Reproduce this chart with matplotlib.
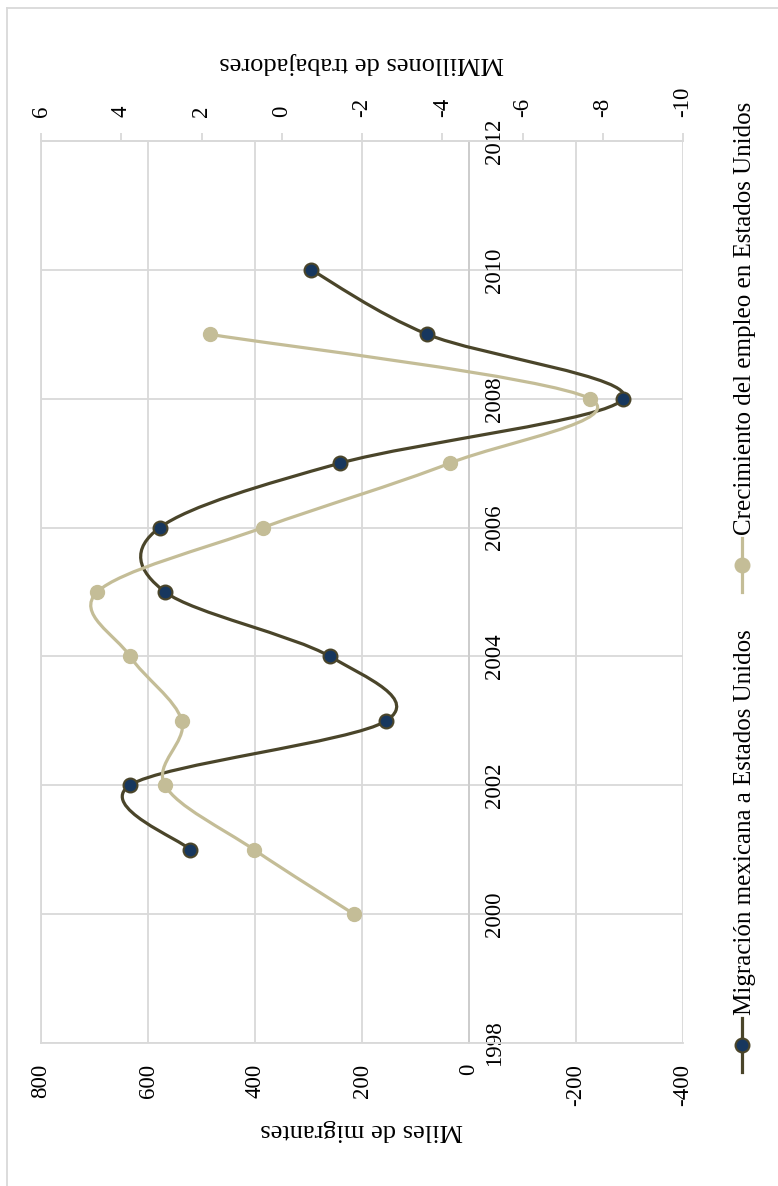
import matplotlib
matplotlib.use("Agg")
import matplotlib.pyplot as plt
from matplotlib.path import Path
from matplotlib.patches import PathPatch
from matplotlib.lines import Line2D
import numpy as np

plt.rcParams['font.family'] = ['Liberation Serif', 'DejaVu Serif']
plt.rcParams['axes.unicode_minus'] = False

years_mig = [2001, 2002, 2003, 2004, 2005, 2006, 2007, 2008, 2009, 2010]
migrantes = [521, 634, 155, 260, 568, 578, 241, -288, 78, 295]  # miles

years_emp = [2000, 2001, 2002, 2003, 2004, 2005, 2006, 2007, 2008, 2009]
empleo = [-1.80, 0.69, 2.91, 2.49, 3.78, 4.60, 0.47, -4.19, -7.68, 1.79]  # millones

lab_mig = "Migración mexicana a Estados Unidos"
lab_emp = "Crecimiento del empleo en Estados Unidos"
year_ticks = list(range(1998, 2013, 2))
mig_ticks = list(range(-400, 801, 200))
emp_ticks = list(range(-10, 7, 2))

DARK = '#4A452A'
NAVY = '#17375E'
TAN = '#C4BD97'
GRID = '#d9d9d9'


def smooth_path(xs, ys):
    # Excel-style smoothed line: Catmull-Rom segments as cubic Beziers
    p = np.column_stack([xs, ys]).astype(float)
    n = len(p)
    verts = [p[0]]
    codes = [Path.MOVETO]
    for i in range(n - 1):
        p0 = p[max(i - 1, 0)]
        p1 = p[i]
        p2 = p[i + 1]
        p3 = p[min(i + 2, n - 1)]
        c1 = p1 + (p2 - p0) / 6.0
        c2 = p2 - (p3 - p1) / 6.0
        verts += [c1, c2, p2]
        codes += [Path.CURVE4] * 3
    return Path(verts, codes)


W, H = 778, 1186
fig = plt.figure(figsize=(W / 100, H / 100), dpi=100)
ax = fig.add_axes([41 / W, (H - 1043) / H, (683 - 41) / W, (1043 - 141) / H])

ax.set_xlim(800, -400)
ax.set_ylim(1998, 2012)
ax.set_xticks(mig_ticks)
ax.set_yticks(year_ticks)
ax.grid(True, color=GRID, lw=1.3)
ax.set_axisbelow(True)

for s in ['left', 'bottom', 'top']:
    ax.spines[s].set_color(GRID)
    ax.spines[s].set_linewidth(1.3)
ax.spines['right'].set_position(('data', 0))
ax.spines['right'].set_color('#cccccc')
ax.spines['right'].set_linewidth(1.3)
ax.yaxis.set_ticks_position('right')
ax.tick_params(axis='y', length=0, pad=11, labelsize=16.5, labelrotation=90)
ax.tick_params(axis='x', length=0, pad=15, labelsize=16.5, labelrotation=90)
for t in ax.get_yticklabels():
    t.set_va('center')

# migration series
ax.add_patch(PathPatch(smooth_path(migrantes, years_mig), fill=False,
                       edgecolor=DARK, lw=2.3, capstyle='round', zorder=3))
ax.plot(migrantes, years_mig, 'o', ms=10, mfc=NAVY, mec=DARK, mew=1.5,
        ls='none', zorder=4)

# employment series on secondary axis (top)
ax2 = ax.twiny()
ax2.set_xlim(6, -10)
ax2.set_xticks(emp_ticks)
for s in ['left', 'bottom', 'right']:
    ax2.spines[s].set_visible(False)
ax2.spines['top'].set_color(GRID)
ax2.spines['top'].set_linewidth(1.3)
ax2.tick_params(axis='x', length=6, width=1.3, color=GRID, pad=11,
                labelsize=16.5, labelrotation=90)
ax2.add_patch(PathPatch(smooth_path(empleo, years_emp), fill=False,
                        edgecolor=TAN, lw=2.3, capstyle='round', zorder=3))
ax2.plot(empleo, years_emp, 'o', ms=10, mfc=TAN, mec=TAN, ls='none', zorder=4)

# axis titles (upside down in the rotated chart)
fig.text(362 / W, 1 - 1130 / H, "Miles de migrantes", rotation=180,
         ha='center', va='center', fontsize=19)
fig.text(362 / W, 1 - 63 / H, "MMillones de trabajadores", rotation=180,
         ha='center', va='center', fontsize=19)

# legend, drawn by hand because it is rotated
for (yc, col, mfc, lab) in [(1045, DARK, NAVY, lab_mig), (565, TAN, TAN, lab_emp)]:
    fig.add_artist(Line2D([742 / W, 742 / W], [1 - (yc - 27) / H, 1 - (yc + 27) / H],
                          color=col, lw=2.3, transform=fig.transFigure))
    fig.add_artist(Line2D([742 / W], [1 - yc / H], marker='o', ms=10, mfc=mfc,
                          mec=col, mew=1.5, transform=fig.transFigure))
    fig.text(745 / W, 1 - (yc - 30) / H, lab, rotation=90, ha='center',
             va='bottom', fontsize=18)

# chart area border
fig.add_artist(Line2D([7 / W, 7 / W], [0, 1 - 8 / H], color=GRID, lw=1.3,
                      transform=fig.transFigure))
fig.add_artist(Line2D([7 / W, 1], [1 - 8 / H, 1 - 8 / H], color=GRID, lw=1.3,
                      transform=fig.transFigure))

fig.savefig("out.png", dpi=100)
